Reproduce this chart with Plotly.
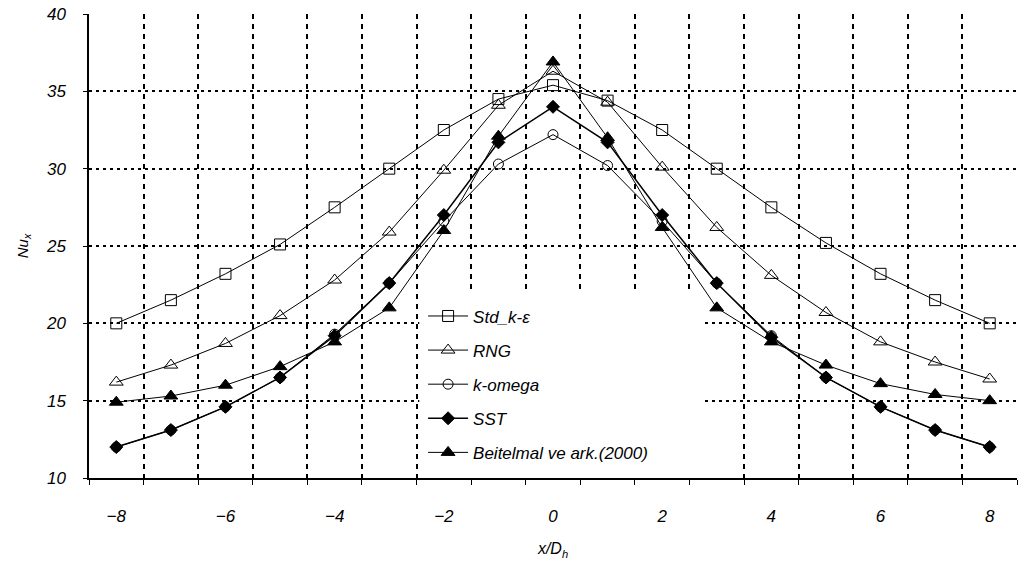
import plotly.graph_objects as go

x_vals = [-8, -7, -6, -5, -4, -3, -2, -1, 0, 1, 2, 3, 4, 5, 6, 7, 8]
std_ke = [20.0, 21.5, 23.2, 25.1, 27.5, 30.0, 32.5, 34.5, 35.4, 34.4, 32.5, 30.0, 27.5, 25.2, 23.2, 21.5, 20.0]
rng = [16.2, 17.3, 18.7, 20.5, 22.8, 25.9, 29.9, 34.1, 36.3, 34.3, 30.1, 26.2, 23.1, 20.7, 18.8, 17.5, 16.4]
k_omega = [12.0, 13.1, 14.6, 16.5, 19.3, 22.6, 26.6, 30.3, 32.2, 30.2, 26.6, 22.6, 19.2, 16.5, 14.6, 13.1, 12.0]
sst = [12.0, 13.1, 14.6, 16.5, 19.2, 22.6, 27.0, 31.7, 34.0, 31.7, 27.0, 22.6, 19.1, 16.5, 14.6, 13.1, 12.0]
beitelmal = [14.9, 15.3, 16.0, 17.2, 18.8, 21.0, 26.0, 32.1, 36.9, 32.0, 26.2, 21.0, 18.8, 17.3, 16.1, 15.4, 15.0]

x_ticks = [-8, -6, -4, -2, 0, 2, 4, 6, 8]
y_ticks = [10, 15, 20, 25, 30, 35, 40]

series = [
    ("Std_k-ε", std_ke, "square-open", 11),
    ("RNG", rng, "triangle-up-open", 12),
    ("k-omega", k_omega, "circle-open", 10),
    ("SST", sst, "diamond", 10),
    ("Beitelmal ve ark.(2000)", beitelmal, "triangle-up", 12),
]

fig = go.Figure()
for i, (name, ys, sym, size) in enumerate(series):
    fig.add_trace(go.Scatter(
        x=x_vals, y=ys, name=name, mode="lines+markers",
        legendgroup=f"g{i}",
        line=dict(color="black", width=1.5 if name == "SST" else 1),
        marker=dict(symbol=sym, size=size, color="black",
                    line=dict(color="black", width=1)),
    ))

font_family = "Liberation Sans, Arial, sans-serif"

fig.add_shape(type="rect", x0=-2.45, x1=2.78, y0=10, y1=22.1,
              xref="x", yref="y", fillcolor="white", line=dict(width=0),
              layer="between")

fig.update_layout(
    width=1018, height=569,
    margin=dict(l=89, r=1, t=14, b=91),
    paper_bgcolor="white", plot_bgcolor="white",
    font=dict(family=font_family, color="black", size=16),
    showlegend=True,
    legend=dict(x=0.36, y=0.387, xanchor="left", yanchor="top",
                bgcolor="rgba(0,0,0,0)", tracegroupgap=9,
                font=dict(size=17, family=font_family, style="italic"),
                itemwidth=40),
    xaxis=dict(
        range=[-8.5, 8.5], tickvals=x_ticks, ticktext=[str(v).replace("-", "−") for v in x_ticks],
        showgrid=False, zeroline=False, showline=True, linecolor="black", linewidth=1.5,
        ticks="", ticklabelstandoff=22,
        tickfont=dict(size=17, family=font_family, style="italic"),
        minor=dict(tick0=-8.5, dtick=1, ticks="outside", ticklen=5, tickwidth=1,
                   tickcolor="black", showgrid=True, gridcolor="black",
                   griddash="5px,5px", gridwidth=1.5),
        title=dict(text="<i>x/D<sub>h</sub></i>", font=dict(size=16), standoff=18),
    ),
    yaxis=dict(
        range=[10, 40], tickvals=y_ticks, showgrid=True, gridcolor="black",
        griddash="3px,4px", gridwidth=2, zeroline=False,
        showline=True, linecolor="black", linewidth=1.5,
        ticks="outside", ticklen=4, tickcolor="black", ticklabelstandoff=14,
        tickfont=dict(size=17, family=font_family, style="italic"),
        title=dict(text="<i>Nu<sub>x</sub></i>", font=dict(size=15), standoff=14),
    ),
)

fig.write_html("out.html")
